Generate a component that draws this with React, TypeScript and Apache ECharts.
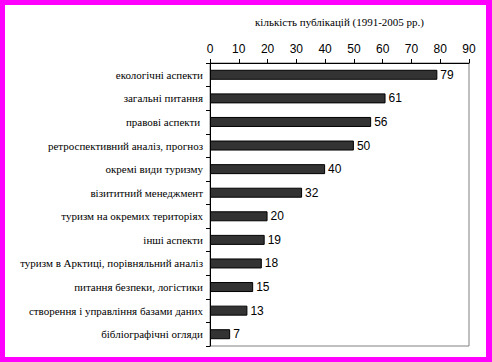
import React, { useEffect, useRef } from "react";
import * as echarts from "echarts";

const categories = [
  "екологічні аспекти",
  "загальні питання",
  "правові аспекти ",
  "ретроспективний аналіз, прогноз",
  "окремі види туризму",
  "візититний менеджмент",
  "туризм на окремих територіях",
  "інші аспекти",
  "туризм в Арктиці, порівняльний аналіз",
  "питання безпеки, логістики",
  "створення і управління базами даних",
  "бібліографічні огляди",
];
const values = [79, 61, 56, 50, 40, 32, 20, 19, 18, 15, 13, 7];
const axisTitle = "кількість публікацій (1991-2005 рр.)";

export default function App() {
  const ref = useRef<HTMLDivElement>(null);
  useEffect(() => {
    document.body.style.margin = "0";
    const chart = echarts.init(ref.current!, null, { renderer: "svg" });
    chart.setOption({
      animation: false,
      backgroundColor: "#ff00ff",
      graphic: [
        {
          type: "rect",
          z: -10,
          shape: { x: 5, y: 5, width: 481, height: 352 },
          style: { fill: "#ffffff" },
          silent: true,
        },
      ],
      grid: {
        left: 210,
        top: 63,
        right: 23,
        bottom: 16,
        show: true,
        borderColor: "#808080",
        borderWidth: 1,
        backgroundColor: "transparent",
      },
      xAxis: {
        type: "value",
        position: "top",
        min: 0,
        max: 90,
        interval: 10,
        name: axisTitle,
        nameLocation: "middle",
        nameGap: 36,
        nameTextStyle: {
          fontFamily: "Liberation Serif",
          fontSize: 11,
          color: "#000",
        },
        axisLine: { show: true, lineStyle: { color: "#000", width: 1 } },
        axisTick: { show: true, length: 4, lineStyle: { color: "#000" } },
        splitLine: { show: false },
        axisLabel: {
          fontFamily: "Liberation Sans",
          fontSize: 12,
          color: "#000",
          margin: 8,
        },
      },
      yAxis: {
        type: "category",
        inverse: true,
        data: categories,
        axisLine: { show: true, lineStyle: { color: "#000", width: 1 } },
        axisTick: { show: true, length: 4, alignWithLabel: false, lineStyle: { color: "#000" } },
        axisLabel: {
          fontFamily: "Liberation Serif",
          fontSize: 11,
          color: "#000",
          margin: 7,
          interval: 0,
        },
        splitLine: { show: false },
      },
      series: [
        {
          type: "bar",
          data: values,
          barWidth: 10,
          itemStyle: { color: "#333333", borderColor: "#000", borderWidth: 1 },
          label: {
            show: true,
            position: "right",
            distance: 3,
            fontFamily: "Liberation Sans",
            fontSize: 12,
            color: "#000",
          },
        },
      ],
    });
    return () => chart.dispose();
  }, []);
  return <div ref={ref} style={{ width: 492, height: 362 }} />;
}
